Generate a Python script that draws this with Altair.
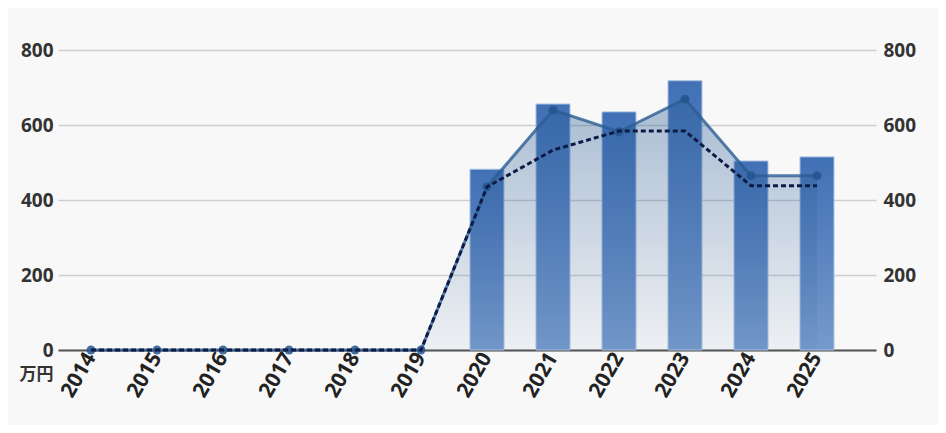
import altair as alt
import pandas as pd

years = [str(y) for y in range(2014, 2026)]
bar_vals = [None, None, None, None, None, None, 482, 656, 635, 718, 504, 515]
solid_vals = [0, 0, 0, 0, 0, 0, 435, 640, 582, 669, 465, 465]
dash_vals = [0, 0, 0, 0, 0, 0, 435, 533, 584, 584, 438, 438]
y_ticks = [0, 200, 400, 600, 800]
unit = "万円"

df = pd.DataFrame({"year": years, "bar": bar_vals, "solid": solid_vals, "dash": dash_vals})

FONT = "Open Sans"
CJK = "Noto Sans CJK JP"

x = alt.X(
    "year:N", sort=years, title=None,
    scale=alt.Scale(type="band", paddingInner=0, paddingOuter=0.197, align=0),
    axis=alt.Axis(labelAngle=-60, labelFont=FONT, labelFontSize=21, labelFontWeight="bold",
                  labelColor="#222", labelPadding=4, ticks=False, domainColor="#555",
                  domainWidth=2, grid=False),
)

yscale = alt.Scale(domain=[0, 800])
left_axis = alt.Axis(values=y_ticks, orient="left", title=unit, titleAngle=0, titleX=-5, titleY=324,
                     titleAlign="right", titleBaseline="middle", titleFont=CJK, titleFontSize=17,
                     titleFontWeight="bold", titleColor="#333", labelFont=FONT, labelFontSize=19,
                     labelFontWeight="bold", labelColor="#333", labelPadding=5, ticks=False,
                     domain=False, gridColor="#cfcfcf", gridWidth=1.5)
right_axis = alt.Axis(values=y_ticks, orient="right", title=None, labelFont=FONT, labelFontSize=19,
                      labelFontWeight="bold", labelColor="#333", labelPadding=7, ticks=False,
                      domain=False, grid=False)

bar_grad = alt.LinearGradient(gradient="linear", x1=0, x2=0, y1=0, y2=1,
                              stops=[alt.GradientStop(color="#4170b5", offset=0),
                                     alt.GradientStop(color="#769acb", offset=1)])
area_grad = alt.LinearGradient(gradient="linear", x1=0, x2=0, y1=0, y2=1,
                               stops=[alt.GradientStop(color="rgba(40,90,150,0.38)", offset=0),
                                      alt.GradientStop(color="rgba(40,90,150,0.05)", offset=1)])

base = alt.Chart(df)

bars = base.mark_bar(width=alt.RelativeBandSize(0.515), color=bar_grad, stroke="#a8c0e2",
                     strokeWidth=1).encode(
    x=x, y=alt.Y("bar:Q", scale=yscale, axis=left_axis))

area = base.mark_area(color=area_grad).encode(
    x=x, y=alt.Y("solid:Q", scale=yscale, axis=None))

solid = base.mark_line(color="#2b5d92", strokeWidth=3, opacity=0.8,
                       point=alt.OverlayMarkDef(size=80, filled=True, color="#24558e", opacity=0.85)).encode(
    x=x, y=alt.Y("solid:Q", scale=yscale, axis=None))

dashed = base.mark_line(color="#0d1b45", strokeWidth=3, strokeDash=[5, 3]).encode(
    x=x, y=alt.Y("dash:Q", scale=yscale, axis=right_axis))

chart = alt.layer(bars, area, solid, dashed).resolve_scale(y="independent").properties(
    width=818, height=300,
    autosize=alt.AutoSizeParams(type="none"),
    padding={"left": 50, "top": 42, "right": 62, "bottom": 75},
    background="#f8f8f8",
).configure_view(stroke=None)

chart.save("out.html", embed_options={"renderer": "svg", "actions": False})
